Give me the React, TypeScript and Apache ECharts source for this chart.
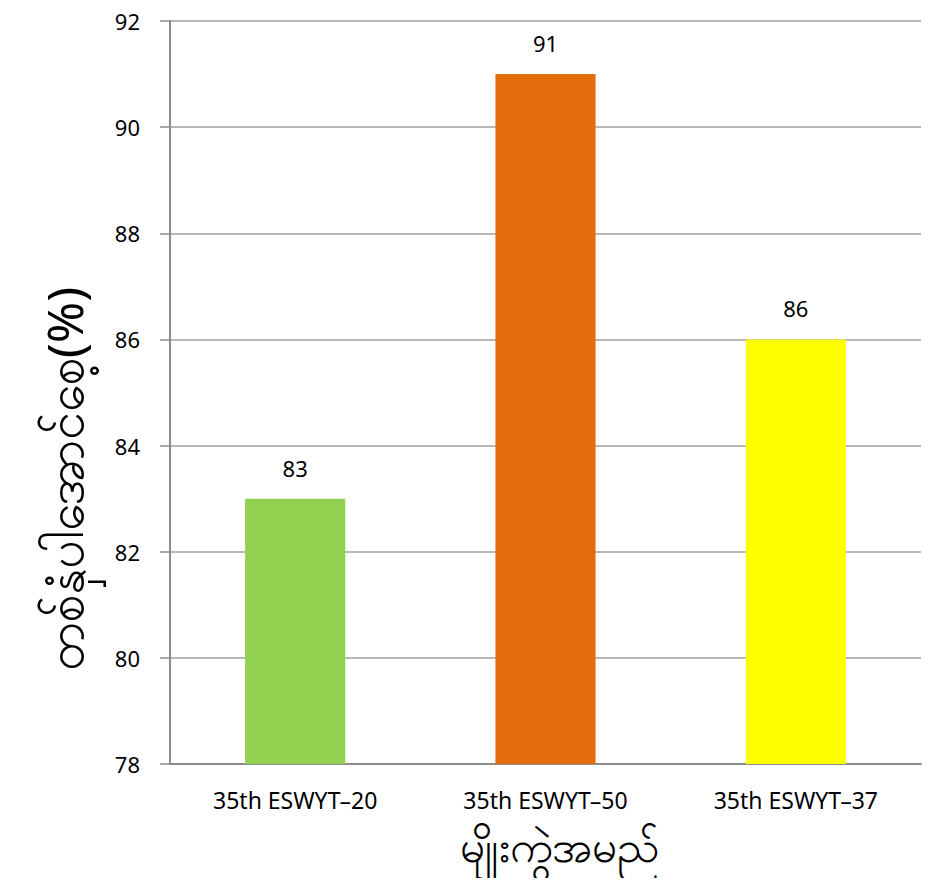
import React, { useEffect, useRef } from "react";
import * as echarts from "echarts";

const categories = ["35th ESWYT–20", "35th ESWYT–50", "35th ESWYT–37"];
const values = [83, 91, 86];
const barColors = ["#92D050", "#E46C0A", "#FFFF00"];
const yTitle = "တစ်နှံပါအောင်စေ့(%)";
const xTitle = "မျိုးကွဲအမည်";

export default function App() {
  const ref = useRef<HTMLDivElement>(null);
  useEffect(() => {
    if (!ref.current) return;
    const chart = echarts.init(ref.current, undefined, { renderer: "svg" });
    const font = "'Noto Sans', 'DejaVu Sans', sans-serif";
    chart.setOption({
      animation: false,
      grid: { left: 170, right: 10, top: 21, bottom: 122 },
      graphic: [
        {
          type: "text",
          x: 64,
          y: 479,
          rotation: Math.PI / 2,
          style: {
            text: yTitle,
            fontSize: 50,
            fill: "#000",
            fontFamily: font,
            textAlign: "center",
            textVerticalAlign: "middle",
          },
        },
        {
          type: "text",
          x: 559,
          y: 845,
          style: {
            text: xTitle,
            fontSize: 44,
            fill: "#000",
            fontFamily: font,
            textAlign: "center",
            textVerticalAlign: "middle",
          },
        },
      ],
      xAxis: {
        type: "category",
        data: categories,
        axisLine: { lineStyle: { color: "#8c8c8c", width: 2 } },
        axisTick: { show: false },
        axisLabel: { fontSize: 23, color: "#000", margin: 24, fontFamily: font },
      },
      yAxis: {
        type: "value",
        min: 78,
        max: 92,
        interval: 2,
        axisLine: { show: true, lineStyle: { color: "#8c8c8c", width: 2 } },
        axisTick: { show: true, length: 10, lineStyle: { color: "#8c8c8c", width: 1.5 } },
        axisLabel: { fontSize: 22, color: "#000", margin: 30, fontFamily: font },
        splitLine: { lineStyle: { color: "#a0a0a0", width: 1.5 } },
      },
      series: [
        {
          type: "bar",
          barWidth: "40%",
          data: values.map((v, i) => ({ value: v, itemStyle: { color: barColors[i] } })),
          label: {
            show: true,
            position: "top",
            distance: 20,
            fontSize: 22,
            color: "#000",
            fontFamily: font,
          },
        },
      ],
    });
    return () => chart.dispose();
  }, []);
  return <div ref={ref} style={{ width: 931, height: 886, margin: -8 }} />;
}
